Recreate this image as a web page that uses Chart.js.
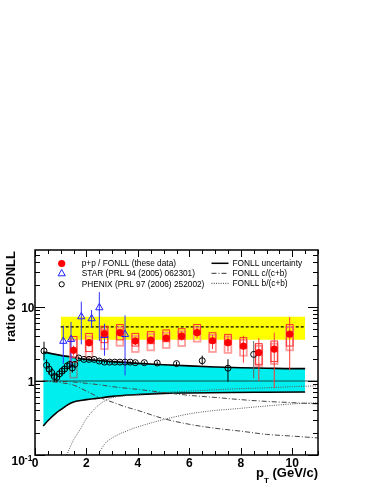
<!DOCTYPE html>
<html><head><meta charset="utf-8">
<script src="https://cdn.jsdelivr.net/npm/chart.js@4.4.0/dist/chart.umd.min.js"></script>
<style>html,body{margin:0;padding:0;background:#fff;}canvas{display:block;}</style>
</head><body>
<canvas id="c" width="382" height="494"></canvas>
<script>
// ---- tick labels ----
const xTickValues = [0, 2, 4, 6, 8, 10];
const xTickLabels = ['0', '2', '4', '6', '8', '10'];
const yTickValues = [0.1, 1, 10];
const yTickLabels = ['10', '1', '10'];   // first one gets superscript -1
const yTickSup = ['-1', '', ''];

// ---- p+p / FONLL (these data) ----
const ppX = [1.5, 2.1, 2.7, 3.3, 3.9, 4.5, 5.1, 5.7, 6.3, 6.9, 7.5, 8.1, 8.7, 9.3, 9.9];
const ppY = [2.6, 3.3, 4.36, 4.5, 3.47, 3.58, 3.8, 4.06, 4.5, 3.5, 3.3, 2.97, 2.42, 2.7, 4.3];
const ppErrHi = [3.0, 3.7, 5.0, 5.0, 3.9, 4.0, 4.3, 4.7, 5.3, 4.2, 4.1, 4.1, 3.8, 4.5, 7.3];
const ppErrLo = [2.2, 2.9, 3.7, 4.0, 3.05, 3.2, 3.4, 3.5, 3.8, 2.7, 2.5, 1.77, 1.0, 0.8, 1.4];
const ppBoxHi = [4.0, 4.4, 5.5, 5.8, 4.4, 4.65, 4.9, 5.1, 5.8, 4.5, 4.27, 3.86, 3.2, 3.47, 5.8];
const ppBoxLo = [2.1, 2.5, 3.3, 3.6, 2.97, 3.2, 3.4, 3.66, 4.27, 3.3, 3.1, 2.77, 1.68, 1.83, 2.97];
const ppBox2Hi = [3.6, 4.0, 5.0, 5.3, 4.06, 4.3, 4.5, 4.7, 5.3, 4.2, 4.0, 3.6, 3.0, 3.2, 5.4];
const ppBox2Lo = [1.8, 2.1, 2.7, 3.0, 2.47, 2.6, 2.8, 2.97, 3.4, 2.47, 2.4, 2.2, 1.6, 1.7, 2.6];

// ---- STAR (PRL 94 (2005) 062301) ----
const starX = [1.1, 1.4, 1.8, 2.2, 2.5, 2.7, 3.5];
const starY = [3.45, 3.66, 7.4, 6.96, 9.8, 4.14, 4.27];
const starErrHi = [5.6, 6.3, 11.8, 9.1, 15.9, 5.95, 7.7];
const starErrLo = [1.7, 1.5, 3.13, 5.2, 3.47, 2.2, 1.19];

// ---- PHENIX (PRL 97 (2006) 252002) ----
const phxX = [0.35, 0.45, 0.55, 0.65, 0.75, 0.85, 0.95, 1.05, 1.15, 1.25, 1.35, 1.45, 1.55,
              1.7, 1.9, 2.1, 2.3, 2.5, 2.7, 2.9, 3.1, 3.3, 3.5, 3.7, 3.9, 4.25, 4.75, 5.5, 6.5, 7.5, 8.5];
const phxY = [2.55, 1.63, 1.45, 1.3, 1.15, 1.12, 1.25, 1.36, 1.45, 1.6, 1.68, 1.5, 1.68,
              2.05, 1.96, 1.96, 1.96, 1.86, 1.8, 1.8, 1.8, 1.8, 1.8, 1.8, 1.77, 1.77, 1.75, 1.72, 1.88, 1.49, 2.29];
const phxErrHi = [3.4, 1.95, 1.7, 1.5, 1.32, 1.28, 1.42, 1.55, 1.65, 1.8, 1.88, 1.7, 1.85,
              2.15, 2.05, 2.05, 2.05, 1.95, 1.88, 1.88, 1.88, 1.88, 1.88, 1.88, 1.85, 1.85, 1.84, 1.82, 2.2, 1.97, 3.47];
const phxErrLo = [1.9, 1.35, 1.22, 1.1, 0.98, 0.98, 1.08, 1.18, 1.26, 1.4, 1.48, 1.3, 1.5,
              1.95, 1.87, 1.87, 1.87, 1.77, 1.72, 1.72, 1.72, 1.72, 1.72, 1.72, 1.69, 1.69, 1.66, 1.62, 1.65, 0.98, 1.09];
// PHENIX systematic box at 1.5
const phxBoxX = [1.5];
const phxBoxHi = [2.07];
const phxBoxLo = [1.11];

// ---- FONLL uncertainty band ----
const fonllUpX = [0.32, 0.5, 1.0, 1.5, 2.0, 2.5, 3.0, 4.0, 5.0, 6.0, 7.0, 8.0, 9.0, 10.0, 10.5];
const fonllUpY = [2.47, 2.4, 2.22, 2.08, 1.96, 1.89, 1.83, 1.73, 1.66, 1.6, 1.55, 1.51, 1.49, 1.47, 1.47];
const fonllLoX = [0.32, 0.5, 0.84, 1.0, 1.42, 2.0, 2.39, 3.0, 3.69, 4.98, 6.0, 7.57, 9.0, 10.5];
const fonllLoY = [0.247, 0.29, 0.374, 0.41, 0.51, 0.56, 0.583, 0.62, 0.647, 0.68, 0.69, 0.70, 0.705, 0.71];

// ---- FONLL c/(c+b) ----
const cUpX = [0.3, 1.0, 1.5, 2.0, 2.5, 3.0, 4.0, 5.0, 6.0, 7.0, 8.0, 9.0, 10.0, 11.0];
const cUpY = [1.0, 0.99, 0.97, 0.93, 0.89, 0.84, 0.77, 0.70, 0.64, 0.60, 0.56, 0.53, 0.51, 0.49];
const cLoX = [0.3, 1.0, 1.5, 2.0, 2.5, 3.0, 3.5, 4.0, 5.0, 6.0, 7.0, 8.0, 9.0, 10.0, 11.0];
const cLoY = [1.0, 0.95, 0.88, 0.73, 0.6, 0.52, 0.45, 0.40, 0.31, 0.26, 0.23, 0.21, 0.19, 0.18, 0.17];
// ---- FONLL b/(c+b) ----
const bUpX = [1.23, 1.5, 1.75, 2.0, 2.26, 2.5, 2.9, 3.5, 4.0, 5.0, 6.0, 7.0, 8.0, 9.0, 10.0, 11.0];
const bUpY = [0.1, 0.16, 0.22, 0.31, 0.40, 0.48, 0.58, 0.63, 0.66, 0.70, 0.73, 0.76, 0.79, 0.81, 0.84, 0.86];
const bLoX = [2.46, 2.7, 3.0, 3.69, 4.0, 4.98, 6.0, 7.0, 7.57, 9.0, 10.0, 11.0];
const bLoY = [0.1, 0.14, 0.17, 0.22, 0.24, 0.30, 0.36, 0.40, 0.415, 0.46, 0.49, 0.51];

// ---- normalisation band and line ----
const normBandX = [1.0, 10.5];
const normBandHi = [7.4, 7.4];
const normBandLo = [3.6, 3.6];
const normLineY = [5.4, 5.4];
const unityX = [0, 11];
const unityY = [1, 1];

const pts = (xa, ya) => xa.map((x, i) => ({x: x, y: ya[i]}));
const FONT = "'Liberation Sans', Arial, Helvetica, sans-serif";
const DASHDOT = [5, 2, 1, 2];
const DOTTED = [1, 1.3];

function lineDS(data, opts) {
  return Object.assign({data: data, showLine: true, pointRadius: 0, borderWidth: 1,
    borderColor: '#000', fill: false, tension: 0, cubicInterpolationMode: 'monotone'}, opts);
}

const datasets = [
  lineDS(pts(fonllUpX, fonllUpY), {fill: '+1', backgroundColor: 'rgb(0,238,238)', borderWidth: 1.6, order: 60}),
  lineDS(pts(fonllLoX, fonllLoY), {borderWidth: 1.6, order: 59}),
  lineDS(pts(normBandX, normBandHi), {fill: '+1', backgroundColor: '#ffff00', borderWidth: 0, borderColor: 'rgba(0,0,0,0)', order: 58}),
  lineDS(pts(normBandX, normBandLo), {borderWidth: 0, borderColor: 'rgba(0,0,0,0)', order: 57}),
  lineDS(pts(unityX, unityY), {borderColor: 'rgba(20,60,60,0.9)', borderWidth: 1, order: 56}),
  lineDS(pts(cUpX, cUpY), {borderColor: '#444', borderDash: DASHDOT, order: 55}),
  lineDS(pts(cLoX, cLoY), {borderColor: '#444', borderDash: DASHDOT, order: 54}),
  lineDS(pts(bUpX, bUpY), {borderColor: '#555', borderDash: DOTTED, order: 53}),
  lineDS(pts(bLoX, bLoY), {borderColor: '#555', borderDash: DOTTED, order: 52}),
  lineDS(pts(normBandX, normLineY), {borderColor: '#000', borderDash: [3, 2], borderWidth: 1.3, order: 51, hook: true}),
  {data: pts(phxX, phxY), showLine: false, pointStyle: 'circle', pointRadius: 3, pointBorderWidth: 1,
   pointBorderColor: '#000', pointBackgroundColor: 'rgba(0,0,0,0)', order: 3},
  {data: pts(starX, starY), showLine: false, pointStyle: 'triangle', pointRadius: 4.2, pointBorderWidth: 1,
   pointBorderColor: '#2020ff', pointBackgroundColor: 'rgba(0,0,0,0)', order: 2},
  {data: pts(ppX, ppY), showLine: false, pointStyle: 'circle', pointRadius: 3.6, pointBorderWidth: 0,
   pointBorderColor: '#ff0000', pointBackgroundColor: '#ff0000', order: 1}
];

function vline(ctx, x, y1, y2) { ctx.beginPath(); ctx.moveTo(x, y1); ctx.lineTo(x, y2); ctx.stroke(); }

const drawPlugin = {
  id: 'rootStyle',
  afterDatasetDraw(chart, args) {
    const ds = chart.data.datasets[args.index];
    if (!ds.hook) return;
    const ctx = chart.ctx, xs = chart.scales.x, ys = chart.scales.y;
    ctx.save();
    ctx.setLineDash([]);
    // PHENIX gray box
    ctx.strokeStyle = 'rgba(110,140,140,0.9)'; ctx.lineWidth = 1.5;
    phxBoxX.forEach((x, i) => {
      const x1 = xs.getPixelForValue(x - 0.13), x2 = xs.getPixelForValue(x + 0.13);
      const y1 = ys.getPixelForValue(phxBoxHi[i]), y2 = ys.getPixelForValue(phxBoxLo[i]);
      ctx.strokeRect(x1, y1, x2 - x1, y2 - y1);
    });
    // p+p boxes: pink then red
    ppX.forEach((x, i) => {
      const x1 = xs.getPixelForValue(x - 0.13), x2 = xs.getPixelForValue(x + 0.13);
      ctx.strokeStyle = 'rgba(255,140,140,0.85)'; ctx.lineWidth = 1.8;
      let y1 = ys.getPixelForValue(ppBox2Hi[i]), y2 = ys.getPixelForValue(ppBox2Lo[i]);
      ctx.strokeRect(x1, y1, x2 - x1, y2 - y1);
      ctx.strokeStyle = '#ff3030'; ctx.lineWidth = 1;
      y1 = ys.getPixelForValue(ppBoxHi[i]); y2 = ys.getPixelForValue(ppBoxLo[i]);
      ctx.strokeRect(x1, y1, x2 - x1, y2 - y1);
    });
    // error bars
    ctx.lineWidth = 1;
    phxX.forEach((x, i) => {
      ctx.strokeStyle = (i === phxX.length - 1) ? '#666' : '#000';
      vline(ctx, xs.getPixelForValue(x), ys.getPixelForValue(phxErrHi[i]), ys.getPixelForValue(phxErrLo[i]));
    });
    ctx.strokeStyle = '#3030ff';
    starX.forEach((x, i) => {
      vline(ctx, xs.getPixelForValue(x), ys.getPixelForValue(starErrHi[i]), ys.getPixelForValue(starErrLo[i]));
    });
    ctx.strokeStyle = '#ff3838';
    ppX.forEach((x, i) => {
      vline(ctx, xs.getPixelForValue(x), ys.getPixelForValue(ppErrHi[i]), ys.getPixelForValue(ppErrLo[i]));
    });
    ctx.restore();
  },
  afterDraw(chart) {
    const ctx = chart.ctx, xs = chart.scales.x, ys = chart.scales.y, a = chart.chartArea;
    ctx.save();
    ctx.setLineDash([]);
    ctx.strokeStyle = '#000'; ctx.lineWidth = 1;
    // x ticks (bottom and top, inside)
    for (let v = 0; v <= 11.001; v += 0.5) {
      const major = xTickValues.indexOf(Math.round(v * 10) / 10) >= 0;
      const len = major ? 7 : 4;
      const px = Math.round(xs.getPixelForValue(v)) + 0.5;
      vline(ctx, px, a.bottom, a.bottom - len);
      vline(ctx, px, a.top, a.top + len);
    }
    // y ticks (left and right, inside)
    for (let d = 0.1; d < 100; d *= 10) {
      for (let m = 1; m <= 9; m++) {
        const v = d * m;
        if (v < 0.1 - 1e-9 || v > ys.max) continue;
        const len = m === 1 ? 10 : 5;
        const py = Math.round(ys.getPixelForValue(v)) + 0.5;
        ctx.beginPath();
        ctx.moveTo(a.left, py); ctx.lineTo(a.left + len, py);
        ctx.moveTo(a.right, py); ctx.lineTo(a.right - len, py);
        ctx.stroke();
      }
    }
    // frame
    ctx.lineWidth = 1.5;
    ctx.strokeRect(a.left, a.top, a.right - a.left, a.bottom - a.top);

    // tick labels
    ctx.fillStyle = '#000';
    ctx.font = 'bold 12px ' + FONT;
    ctx.textAlign = 'center'; ctx.textBaseline = 'alphabetic';
    xTickValues.forEach((v, i) => ctx.fillText(xTickLabels[i], xs.getPixelForValue(v), a.bottom + 12));
    yTickValues.forEach((v, i) => {
      const py = ys.getPixelForValue(v);
      if (yTickSup[i]) {
        ctx.textAlign = 'left';
        ctx.font = 'bold 12px ' + FONT;
        ctx.fillText(yTickLabels[i], 11.5, py + 10);
        const w = ctx.measureText(yTickLabels[i]).width;
        ctx.font = 'bold 8.5px ' + FONT;
        ctx.fillText(yTickSup[i], 11.5 + w, py + 6);
      } else {
        ctx.textAlign = 'right';
        ctx.font = 'bold 12px ' + FONT;
        ctx.fillText(yTickLabels[i], 34.5, py + 5);
      }
    });

    // axis titles
    ctx.font = 'bold 13px ' + FONT;
    ctx.save();
    ctx.translate(14.5, 296.5); ctx.rotate(-Math.PI / 2);
    ctx.textAlign = 'center'; ctx.fillText('ratio to FONLL', 0, 0);
    ctx.restore();
    // p_T (GeV/c), right aligned to frame
    ctx.textAlign = 'left';
    ctx.font = 'bold 13px ' + FONT;
    const wP = ctx.measureText('p').width;
    const wRest = ctx.measureText(' (GeV/c)').width;
    ctx.font = 'bold 8px ' + FONT;
    const wT = ctx.measureText('T').width;
    let x0 = a.right - (wP + wT + wRest);
    ctx.font = 'bold 13px ' + FONT;
    ctx.fillText('p', x0, 477);
    ctx.font = 'bold 8px ' + FONT;
    ctx.fillText('T', x0 + wP, 483);
    ctx.font = 'bold 13px ' + FONT;
    ctx.fillText(' (GeV/c)', x0 + wP + wT, 477);

    // legend
    ctx.font = '8.3px ' + FONT;
    ctx.textBaseline = 'middle';
    const lx = 61.7, tx = 81.7;
    const rows = [263.5, 273.5, 284.3];
    ctx.fillStyle = '#ff0000';
    ctx.beginPath(); ctx.arc(lx, rows[0], 3.6, 0, 2 * Math.PI); ctx.fill();
    ctx.strokeStyle = '#2020ff'; ctx.lineWidth = 1;
    ctx.beginPath(); ctx.moveTo(lx, rows[1] - 4); ctx.lineTo(lx + 3.6, rows[1] + 2.3); ctx.lineTo(lx - 3.6, rows[1] + 2.3); ctx.closePath(); ctx.stroke();
    ctx.strokeStyle = '#000';
    ctx.beginPath(); ctx.arc(lx, rows[2], 2.6, 0, 2 * Math.PI); ctx.stroke();
    ctx.fillStyle = '#000';
    ctx.fillText('p+p / FONLL (these data)', tx, rows[0]);
    ctx.fillText('STAR (PRL 94 (2005) 062301)', tx, rows[1]);
    ctx.fillText('PHENIX (PRL 97 (2006) 252002)', tx, rows[2]);
    const rx1 = 211.5, rx2 = 228.5, rtx = 232.5;
    const rrows = [263.3, 273.3, 283.3];
    ctx.lineWidth = 1.5; ctx.strokeStyle = '#000';
    ctx.beginPath(); ctx.moveTo(rx1, rrows[0]); ctx.lineTo(rx2, rrows[0]); ctx.stroke();
    ctx.lineWidth = 1; ctx.strokeStyle = '#333';
    ctx.setLineDash(DASHDOT);
    ctx.beginPath(); ctx.moveTo(rx1, rrows[1]); ctx.lineTo(rx2, rrows[1]); ctx.stroke();
    ctx.setLineDash(DOTTED);
    ctx.beginPath(); ctx.moveTo(rx1, rrows[2]); ctx.lineTo(rx2, rrows[2]); ctx.stroke();
    ctx.setLineDash([]);
    ctx.fillText('FONLL uncertainty', rtx, rrows[0]);
    ctx.fillText('FONLL c/(c+b)', rtx, rrows[1]);
    ctx.fillText('FONLL b/(c+b)', rtx, rrows[2]);
    ctx.restore();
  }
};

new Chart(document.getElementById('c'), {
  type: 'line',
  data: {datasets: datasets},
  options: {
    responsive: false, animation: false, devicePixelRatio: 1,
    layout: {padding: {left: 35, top: 250, right: 64, bottom: 39}},
    plugins: {legend: {display: false}, tooltip: {enabled: false}},
    scales: {
      x: {type: 'linear', min: 0, max: 11, display: false},
      y: {type: 'logarithmic', min: 0.1, max: 59, display: false}
    }
  },
  plugins: [drawPlugin]
});
</script>
</body></html>
